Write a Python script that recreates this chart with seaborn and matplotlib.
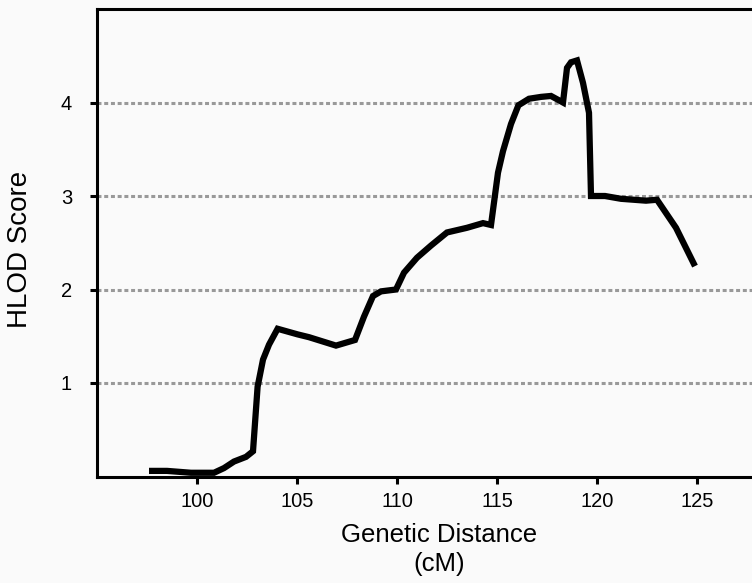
import numpy as np
import pandas as pd
import matplotlib
matplotlib.use("Agg")
import matplotlib.pyplot as plt
import seaborn as sns

# HLOD curve
distance_cm = [97.6, 98.5, 99.7, 100.85, 101.35, 101.85, 102.45, 102.8, 103.03,
               103.3, 103.6, 104.03, 105.03, 105.6, 106.95, 107.9, 108.35, 108.8,
               109.2, 109.95, 110.35, 111.0, 111.7, 112.5, 113.5, 114.3, 114.7,
               115.05, 115.3, 115.7, 116.07, 116.6, 117.2, 117.7, 118.3, 118.5,
               118.7, 119.0, 119.3, 119.6, 119.7, 120.4, 121.2, 122.45, 123.0,
               123.95, 124.9]
hlod_score = [0.06, 0.06, 0.04, 0.04, 0.09, 0.16, 0.21, 0.27, 0.96,
              1.25, 1.41, 1.58, 1.52, 1.49, 1.40, 1.46, 1.71, 1.93,
              1.98, 2.00, 2.18, 2.34, 2.47, 2.61, 2.66, 2.71, 2.69,
              3.25, 3.48, 3.77, 3.97, 4.04, 4.06, 4.07, 4.00, 4.37,
              4.43, 4.45, 4.21, 3.89, 3.00, 3.00, 2.97, 2.95, 2.96,
              2.66, 2.25]
x_ticks = [100, 105, 110, 115, 120, 125]
y_ticks = [1, 2, 3, 4]

df = pd.DataFrame({"cM": distance_cm, "HLOD": hlod_score})

sns.set_style("ticks")
plt.rcParams["font.family"] = ["Liberation Sans", "DejaVu Sans"]
plt.rcParams["text.color"] = "black"
plt.rcParams["axes.labelcolor"] = "black"
plt.rcParams["xtick.color"] = "black"
plt.rcParams["ytick.color"] = "black"

bg = "#fafafa"
fig = plt.figure(figsize=(7.52, 5.83), dpi=100, facecolor=bg)
ax = fig.add_axes([97 / 752, 106.5 / 583, 700 / 752, 467.5 / 583])
ax.set_facecolor(bg)

for yv in y_ticks:
    ax.axhline(yv, color="#999999", lw=2.2, ls=(0, (1.3, 0.9)), zorder=1)

sns.lineplot(data=df, x="cM", y="HLOD", ax=ax, color="black", lw=4.5,
             sort=False, zorder=3)
ax.lines[-1].set_solid_capstyle("butt")
ax.lines[-1].set_solid_joinstyle("miter")

ax.set_xlim(95, 130)
ax.set_ylim(0, 5)
ax.set_xticks(x_ticks)
ax.set_yticks(y_ticks)

for side in ["left", "top", "bottom"]:
    ax.spines[side].set_linewidth(2.2)
    ax.spines[side].set_color("black")
ax.spines["right"].set_visible(False)

ax.tick_params(axis="x", length=5, width=2.2, pad=6, labelsize=14.5)
ax.tick_params(axis="y", length=5, width=2.2, pad=13, labelsize=14.5)

ax.set_xlabel("Genetic Distance\n(cM)", fontsize=18.5, linespacing=1.25)
ax.set_ylabel("HLOD Score", fontsize=20)
ax.xaxis.set_label_coords(0.4886, -0.100)
ax.yaxis.set_label_coords(-0.092, 0.4856)

fig.savefig("out.png", dpi=100, facecolor=bg)
